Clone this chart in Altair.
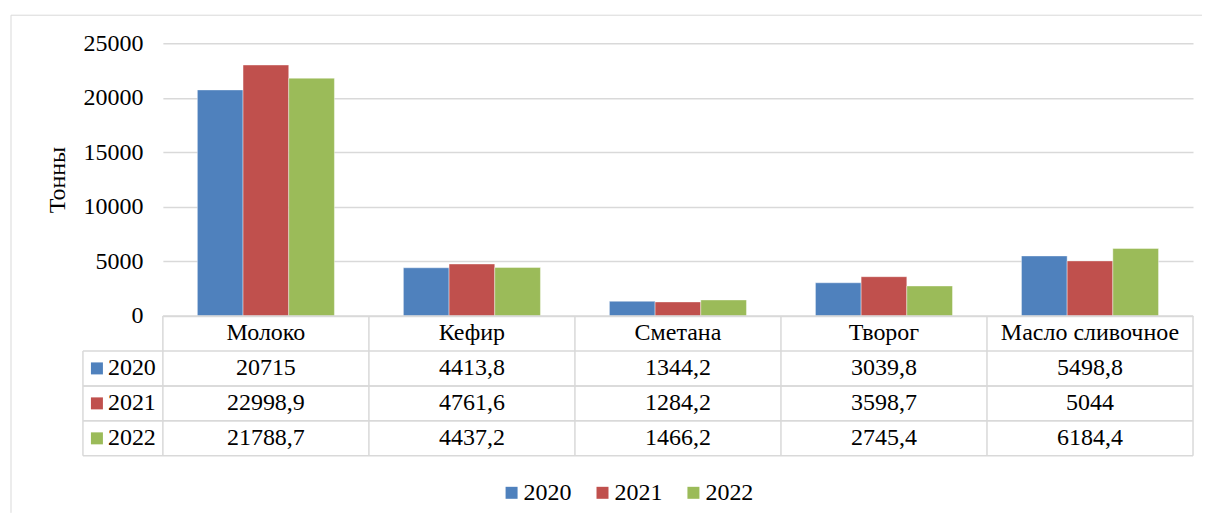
import altair as alt
import pandas as pd

# ---------------- data ----------------
categories = ["Молоко", "Кефир", "Сметана", "Творог", "Масло сливочное"]
years = ["2020", "2021", "2022"]
values_2020 = [20715, 4413.8, 1344.2, 3039.8, 5498.8]
values_2021 = [22998.9, 4761.6, 1284.2, 3598.7, 5044]
values_2022 = [21788.7, 4437.2, 1466.2, 2745.4, 6184.4]
y_ticks = [0, 5000, 10000, 15000, 20000, 25000]
y_title = "Тонны"
colors = ["#4F81BD", "#C0504D", "#9BBB59"]

# ---------------- layout / style ----------------
W, H = 1031, 273
ROW_H = 35
TABLE_TOP = H
TABLE_BOTTOM = H + 4 * ROW_H
LEFT_COL = -80
FONT = "Liberation Serif"
FS = 24
LINE = "#d9d9d9"
HEADER = "header"
row_keys = [HEADER] + years

series = {"2020": values_2020, "2021": values_2021, "2022": values_2022}
bars_df = pd.DataFrame(
    [{"cat": c, "year": y, "value": v} for y, vals in series.items() for c, v in zip(categories, vals)]
)


def fmt(v):
    return f"{v:g}".replace(".", ",")


table_rows = [{"cat": c, "row": HEADER, "label": c} for c in categories]
for y, vals in series.items():
    for c, v in zip(categories, vals):
        table_rows.append({"cat": c, "row": y, "label": fmt(v)})
table_df = pd.DataFrame(table_rows)
years_df = pd.DataFrame({"row": years, "year": years})
header_df = pd.DataFrame({"row": [HEADER]})
cats_df = pd.DataFrame({"cat": categories})
one_df = pd.DataFrame({"k": [0]})

x_scale = alt.Scale(domain=categories, paddingInner=0, paddingOuter=0)
row_scale = alt.Scale(domain=row_keys, range=[TABLE_TOP, TABLE_BOTTOM], paddingInner=0, paddingOuter=0)
color_scale = alt.Scale(domain=years, range=colors)

x_cat = alt.X("cat:N", sort=categories, scale=x_scale, axis=None)

bars = alt.Chart(bars_df).mark_bar(stroke="white", strokeWidth=0.4).encode(
    x=x_cat,
    xOffset=alt.XOffset("year:N", sort=years, scale=alt.Scale(domain=years, paddingInner=0, paddingOuter=0.755)),
    y=alt.Y(
        "value:Q",
        scale=alt.Scale(domain=[0, 25000], nice=False),
        axis=alt.Axis(
            values=y_ticks, format="d", title=y_title, grid=True, gridColor=LINE, gridWidth=1.5,
            domain=False, ticks=False, labelFont=FONT, labelFontSize=FS, labelColor="black",
            labelPadding=20, titleFont=FONT, titleFontSize=FS, titleFontWeight="normal",
            titleColor="black", titlePadding=13,
        ),
    ),
    color=alt.Color(
        "year:N", scale=color_scale,
        legend=alt.Legend(
            title=None, orient="none", legendX=337, legendY=438, direction="horizontal",
            symbolType="square", symbolSize=144, symbolStrokeWidth=0, symbolOpacity=1,
            labelFont=FONT, labelFontSize=FS, labelColor="black", labelOffset=0,
            columnPadding=19, padding=0,
        ),
    ),
)

table_text = alt.Chart(table_df).mark_text(font=FONT, fontSize=FS, color="black", baseline="middle").encode(
    x=x_cat,
    y=alt.Y("row:N", scale=row_scale, axis=None),
    text="label:N",
)

year_text = alt.Chart(years_df).mark_text(font=FONT, fontSize=FS, color="black", baseline="middle", align="left").encode(
    x=alt.value(-55),
    y=alt.Y("row:N", scale=row_scale, axis=None),
    text="year:N",
)

year_sq = alt.Chart(years_df).mark_square(size=144, opacity=1).encode(
    x=alt.value(-66),
    y=alt.Y("row:N", scale=row_scale, axis=None),
    color=alt.Color("year:N", scale=color_scale),
)

rule_style = dict(color=LINE, strokeWidth=1.5)

header_lines = alt.Chart(header_df).mark_rule(**rule_style).encode(
    x=alt.value(0), x2=alt.value("width"),
    y=alt.Y("row:N", scale=row_scale, axis=None, bandPosition=0),
)
year_top_lines = alt.Chart(years_df).mark_rule(**rule_style).encode(
    x=alt.value(LEFT_COL), x2=alt.value("width"),
    y=alt.Y("row:N", scale=row_scale, axis=None, bandPosition=0),
)
year_bottom_lines = alt.Chart(years_df).mark_rule(**rule_style).encode(
    x=alt.value(LEFT_COL), x2=alt.value("width"),
    y=alt.Y("row:N", scale=row_scale, axis=None, bandPosition=1),
)
cat_lines = alt.Chart(cats_df).mark_rule(**rule_style).encode(
    x=alt.X("cat:N", sort=categories, scale=x_scale, axis=None, bandPosition=0),
    y=alt.value(TABLE_TOP), y2=alt.value(TABLE_BOTTOM),
)
right_line = alt.Chart(one_df).mark_rule(**rule_style).encode(
    x=alt.value("width"), y=alt.value(TABLE_TOP), y2=alt.value(TABLE_BOTTOM),
)
left_line = alt.Chart(one_df).mark_rule(**rule_style).encode(
    x=alt.value(LEFT_COL), y=alt.value(TABLE_TOP + ROW_H), y2=alt.value(TABLE_BOTTOM),
)
# outer chart-area border (light gray frame)
frame_left = alt.Chart(one_df).mark_rule(color=LINE, strokeWidth=1).encode(
    x=alt.value(-152), y=alt.value(-28), y2=alt.value(470),
)
frame_top = alt.Chart(one_df).mark_rule(color=LINE, strokeWidth=1).encode(
    x=alt.value(-152), x2=alt.value(1040), y=alt.value(-28),
)

chart = alt.layer(
    frame_left, frame_top,
    bars,
    header_lines, year_top_lines, year_bottom_lines, cat_lines, right_line, left_line,
    table_text, year_text, year_sq,
).resolve_scale(y="independent").properties(
    width=W, height=H,
    padding={"left": 2, "top": 6, "right": 0, "bottom": 0},
    background="white",
).configure_view(stroke="transparent")

chart.save("out.html", embed_options={"renderer": "svg", "actions": False})
